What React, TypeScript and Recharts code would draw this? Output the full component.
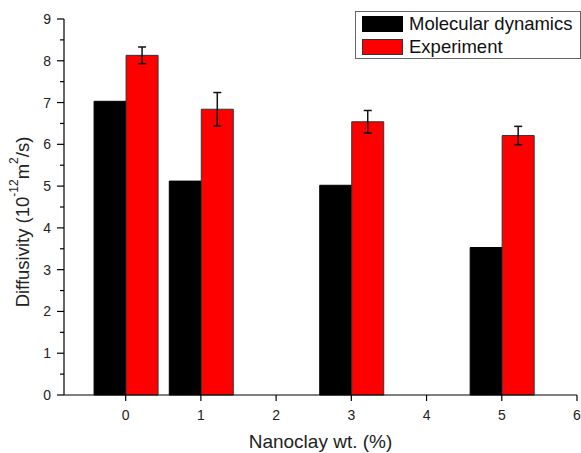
import React from 'react';
import { ComposedChart, Bar, XAxis, YAxis, ErrorBar, Legend, Label } from 'recharts';

const loadings = [0, 1, 3, 5];
const molecularDynamics = [7.03, 5.12, 5.02, 3.53];
const experiment = [8.13, 6.84, 6.54, 6.21];
const experimentError = [0.2, 0.4, 0.27, 0.22];
const xTicks = [0, 1, 2, 3, 4, 5, 6];
const yTicks = [0, 0.5, 1, 1.5, 2, 2.5, 3, 3.5, 4, 4.5, 5, 5.5, 6, 6.5, 7, 7.5, 8, 8.5, 9];

const data = loadings.map((x, i) => ({
  x,
  md: molecularDynamics[i],
  exp: experiment[i],
  err: experimentError[i],
}));

const FONT = '"Liberation Sans", Arial, sans-serif';

const YTick = (props: any) => {
  const { x, y, payload } = props;
  const v = payload.value;
  const major = Number.isInteger(v);
  return (
    <g>
      <line x1={x} x2={x - (major ? 7 : 4)} y1={y} y2={y} stroke="#000" strokeWidth={1.2} />
      {major && (
        <text x={x - 13} y={y} dy="0.36em" textAnchor="end" fontSize={14} fontFamily={FONT} fill="#222">
          {v}
        </text>
      )}
    </g>
  );
};

const YLabel = () => (
  <text
    x={22}
    y={222}
    transform="rotate(-90, 22, 222)"
    textAnchor="middle"
    dominantBaseline="central"
    fontSize={18.5}
    fontFamily={FONT}
    fill="#222"
  >
    Diffusivity (10
    <tspan fontSize={12} dy={-8}>-12</tspan>
    <tspan dy={8}>m</tspan>
    <tspan fontSize={12} dy={-8}>2</tspan>
    <tspan dy={8}>/s)</tspan>
  </text>
);

const LegendBox = () => (
  <div
    style={{
      width: 226,
      height: 48,
      border: '1px solid #666',
      boxSizing: 'border-box',
      background: '#fff',
      fontFamily: FONT,
      fontSize: 18.5,
      color: '#111',
      position: 'relative',
    }}
  >
    <div style={{ position: 'absolute', left: 6, top: 4, width: 41, height: 16, background: '#000' }} />
    <div style={{ position: 'absolute', left: 53, top: 2, lineHeight: '20px', whiteSpace: 'nowrap' }}>Molecular dynamics</div>
    <div style={{ position: 'absolute', left: 6, top: 27, width: 41, height: 16, background: '#f00', border: '1px solid #333', boxSizing: 'border-box' }} />
    <div style={{ position: 'absolute', left: 53, top: 25, lineHeight: '20px', whiteSpace: 'nowrap' }}>Experiment</div>
  </div>
);

export default function App() {
  return (
    <div style={{ position: 'absolute', left: 0, top: 0, width: 581, height: 453, background: '#fff' }}>
      <ComposedChart
        width={581}
        height={453}
        data={data}
        margin={{ top: 19, right: 4, bottom: 0, left: 0 }}
        barGap={0}
        barSize={32}
      >
        <XAxis
          dataKey="x"
          type="number"
          domain={[-0.82, 6]}
          ticks={xTicks}
          interval={0}
          allowDataOverflow
          height={58}
          stroke="#000"
          strokeWidth={1.2}
          tickSize={6}
          tickMargin={9}
          tick={{ fontSize: 14, fontFamily: FONT, fill: '#222' }}
        >
          <Label
            value="Nanoclay wt. (%)"
            position="insideBottom"
            offset={5}
            style={{ fontSize: 19, fontFamily: FONT, fill: '#222' }}
          />
        </XAxis>
        <YAxis
          type="number"
          domain={[0, 9]}
          ticks={yTicks}
          interval={0}
          width={64}
          stroke="#000"
          strokeWidth={1.2}
          tickLine={false}
          tickSize={0}
          tickMargin={0}
          tick={<YTick />}
        >
          <Label content={<YLabel />} />
        </YAxis>
        <Legend
          layout="vertical"
          align="center"
          verticalAlign="middle"
          content={<LegendBox />}
          wrapperStyle={{ position: 'absolute', left: 355, top: 11, width: 226, height: 48 }}
        />
        <Bar dataKey="md" name="Molecular dynamics" fill="#000" stroke="#000" strokeWidth={1} isAnimationActive={false} />
        <Bar dataKey="exp" name="Experiment" fill="#ff0000" stroke="#333" strokeWidth={1} isAnimationActive={false}>
          <ErrorBar dataKey="err" width={4} stroke="#111" strokeWidth={1.5} direction="y" />
        </Bar>
      </ComposedChart>
    </div>
  );
}
